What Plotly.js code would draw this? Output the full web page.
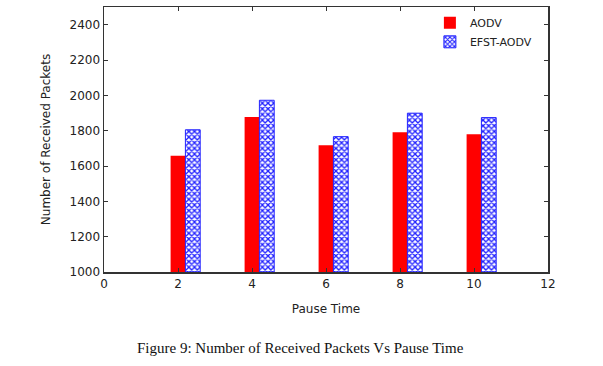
<!DOCTYPE html>
<html>
<head>
<meta charset="utf-8">
<script src="https://cdn.plot.ly/plotly-3.0.1.min.js"></script>
<style>html,body{margin:0;padding:0;background:#fff;}#chart{width:603px;height:366px;}</style>
</head>
<body>
<div id="chart"></div>
<script>
const pauseTime = [2, 4, 6, 8, 10];
const aodv = [1658, 1878, 1718, 1791, 1780];
const efstAodv = [1805, 1972, 1766, 1899, 1874];
const seriesNames = ["AODV", "EFST-AODV"];
const xTicks = [0, 2, 4, 6, 8, 10, 12];
const yTicks = [1000, 1200, 1400, 1600, 1800, 2000, 2200, 2400];
const yBase = 1000;

const font = "DejaVu Sans, sans-serif";
const data = [
  {
    type: "bar", name: seriesNames[0], x: pauseTime,
    y: aodv.map(v => v - yBase), base: yBase,
    width: 0.4, offset: -0.2,
    marker: {color: "#ff0000", line: {width: 0}}
  },
  {
    type: "bar", name: seriesNames[1], x: pauseTime,
    y: efstAodv.map(v => v - yBase), base: yBase,
    width: 0.4, offset: 0.2,
    marker: {color: "#ffffff", line: {color: "#2222ff", width: 1},
      pattern: {shape: "x", fgcolor: "#2020ff", bgcolor: "#ffffff", size: 4, solidity: 0.55}}
  }
];

const layout = {
  width: 603, height: 366,
  margin: {l: 104, r: 55, t: 7, b: 94},
  paper_bgcolor: "#fff", plot_bgcolor: "#fff",
  font: {family: font, size: 12, color: "#222"},
  barmode: "overlay",
  showlegend: true,
  legend: {x: 0.975, y: 0.995, xanchor: "right", yanchor: "top",
    bgcolor: "rgba(0,0,0,0)", font: {size: 11, family: font, color: "#222"},
    itemwidth: 30, tracegroupgap: 0},
  xaxis: {
    range: [0, 12], tickvals: xTicks, ticktext: xTicks.map(String),
    tickfont: {size: 12, family: font, color: "#222"},
    ticks: "inside", ticklen: 4, tickcolor: "#333", tickwidth: 1,
    showline: true, linecolor: "#333", linewidth: 1.5, mirror: "ticks",
    showgrid: false, zeroline: false,
    title: {text: "Pause Time", font: {size: 12, family: font}, standoff: 14}
  },
  yaxis: {
    range: [1000, 2500], tickvals: yTicks, ticktext: yTicks.map(String),
    tickfont: {size: 12, family: font, color: "#222"},
    ticks: "inside", ticklen: 4, tickcolor: "#333", tickwidth: 1,
    showline: true, linecolor: "#333", linewidth: 1.5, mirror: "ticks",
    showgrid: false, zeroline: false,
    title: {text: "Number of Received Packets", font: {size: 12, family: font}, standoff: 16}
  },
  annotations: [{
    text: "Figure 9: Number of Received Packets Vs Pause Time",
    xref: "paper", yref: "paper", x: 0.443, y: -0.285, xanchor: "center", yanchor: "middle",
    showarrow: false, font: {family: "Liberation Serif, Times New Roman, serif", size: 15, color: "#111"}
  }]
};
Plotly.newPlot("chart", data, layout, {displayModeBar: false, staticPlot: true});
</script>
</body>
</html>
